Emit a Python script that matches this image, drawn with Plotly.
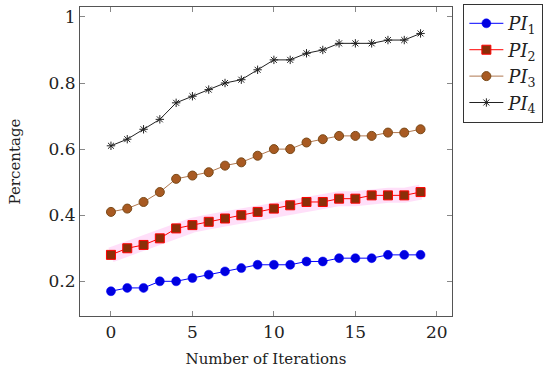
import plotly.graph_objects as go

iterations = list(range(20))
pi1 = [0.17, 0.18, 0.18, 0.20, 0.20, 0.21, 0.22, 0.23, 0.24, 0.25,
       0.25, 0.25, 0.26, 0.26, 0.27, 0.27, 0.27, 0.28, 0.28, 0.28]
pi2 = [0.28, 0.30, 0.31, 0.33, 0.36, 0.37, 0.38, 0.39, 0.40, 0.41,
       0.42, 0.43, 0.44, 0.44, 0.45, 0.45, 0.46, 0.46, 0.46, 0.47]
pi3 = [0.41, 0.42, 0.44, 0.47, 0.51, 0.52, 0.53, 0.55, 0.56, 0.58,
       0.60, 0.60, 0.62, 0.63, 0.64, 0.64, 0.64, 0.65, 0.65, 0.66]
pi4 = [0.61, 0.63, 0.66, 0.69, 0.74, 0.76, 0.78, 0.80, 0.81, 0.84,
       0.87, 0.87, 0.89, 0.90, 0.92, 0.92, 0.92, 0.93, 0.93, 0.95]
names = ["<i>PI</i><sub>1</sub>", "<i>PI</i><sub>2</sub>",
         "<i>PI</i><sub>3</sub>", "<i>PI</i><sub>4</sub>"]
x_ticks = [0, 5, 10, 15, 20]
y_ticks = [0.2, 0.4, 0.6, 0.8, 1.0]
y_ticklabels = ["0.2", "0.4", "0.6", "0.8", "1"]

FONT = "DejaVu Serif"
fig = go.Figure()

# soft pink band behind PI2
fig.add_trace(go.Scatter(x=iterations, y=pi2, mode="lines", showlegend=False,
                         hoverinfo="skip",
                         line=dict(color="rgba(255,140,235,0.28)", width=15)))

fig.add_trace(go.Scatter(x=iterations, y=pi1, mode="lines+markers", name=names[0],
                         line=dict(color="#0000ff", width=1),
                         marker=dict(symbol="circle", size=9, color="#0000e0",
                                     line=dict(color="#0000ff", width=0.5))))
fig.add_trace(go.Scatter(x=iterations, y=pi2, mode="lines+markers", name=names[1],
                         line=dict(color="#ff0000", width=1),
                         marker=dict(symbol="square", size=9, color="#8b2e08",
                                     line=dict(color="#ff0000", width=1))))
fig.add_trace(go.Scatter(x=iterations, y=pi3, mode="lines+markers", name=names[2],
                         line=dict(color="#b07850", width=1),
                         marker=dict(symbol="circle", size=9, color="#a85a22",
                                     line=dict(color="#7a4a18", width=1))))
fig.add_trace(go.Scatter(x=iterations, y=pi4, mode="lines+markers", name=names[3],
                         line=dict(color="#222222", width=1),
                         marker=dict(symbol="asterisk-open", size=7,
                                     line=dict(color="#222222", width=1))))

axis_common = dict(showgrid=False, zeroline=False, showline=True, mirror="ticks",
                   linecolor="#555555", linewidth=1.2, ticks="inside", ticklen=5,
                   tickcolor="#888888", automargin=False,
                   tickfont=dict(family=FONT, size=17, color="#222222"))

fig.update_layout(
    width=550, height=370,
    margin=dict(l=80, r=98, t=7, b=54, autoexpand=False),
    paper_bgcolor="white", plot_bgcolor="white",
    font=dict(family=FONT, color="#222222"),
    xaxis=dict(range=[-1.9, 20.93], tickvals=x_ticks,
               title=dict(text="Number of Iterations", font=dict(family=FONT, size=15), standoff=12),
               **axis_common),
    yaxis=dict(range=[0.095, 1.03], tickvals=y_ticks, ticktext=y_ticklabels,
               title=dict(text="Percentage", font=dict(family=FONT, size=15), standoff=24),
               **axis_common),
    legend=dict(x=1.03, y=1.01, xanchor="left", yanchor="top",
                bordercolor="#333333", borderwidth=1.2, bgcolor="white",
                font=dict(family=FONT, size=18), tracegroupgap=0,
                itemwidth=34),
)

fig.write_html("out.html", config={"displayModeBar": False},
               post_script="document.body.style.margin='0';")
